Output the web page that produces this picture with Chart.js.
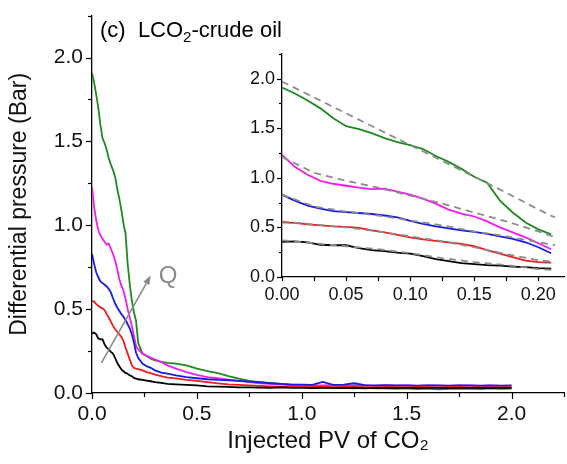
<!DOCTYPE html>
<html>
<head>
<meta charset="utf-8">
<script src="https://cdn.jsdelivr.net/npm/chart.js@4/dist/chart.umd.min.js"></script>
<style>
  html, body { margin: 0; padding: 0; background: #fff; }
  #wrap { position: relative; width: 567px; height: 464px; }
  #main { position: absolute; left: 0; top: 0; }
  #inset { position: absolute; left: 235px; top: 40px; }
</style>
</head>
<body>
<div id="wrap">
  <canvas id="main" width="567" height="464"></canvas>
  <canvas id="inset" width="332" height="270"></canvas>
</div>
<script>
// Injected pore volumes of CO2 (shared x grid for every run)
const pv = [
  0, 0.01, 0.02, 0.03, 0.04, 0.05, 0.06, 0.07, 0.08, 0.09,
  0.10, 0.11, 0.12, 0.13, 0.14, 0.15, 0.16, 0.17, 0.18, 0.19,
  0.20, 0.21, 0.22, 0.24, 0.26, 0.28, 0.30, 0.33, 0.36, 0.40,
  0.45, 0.50, 0.55, 0.60, 0.65, 0.70, 0.75, 0.80, 0.85, 0.90,
  0.95, 1.00, 1.05, 1.10, 1.15, 1.20, 1.25, 1.30, 1.35, 1.40,
  1.45, 1.50, 1.55, 1.60, 1.65, 1.70, 1.75, 1.80, 1.85, 1.90,
  1.95, 2.00
];

// Differential pressure (bar), one run per injection rate
const dpBlack = [
  0.355, 0.360, 0.350, 0.325, 0.320, 0.320, 0.290, 0.270, 0.260, 0.245,
  0.235, 0.210, 0.180, 0.160, 0.140, 0.130, 0.120, 0.115, 0.105, 0.100,
  0.090, 0.085, 0.082, 0.078, 0.074, 0.070, 0.065, 0.060, 0.055, 0.052,
  0.048, 0.045, 0.040, 0.038, 0.036, 0.034, 0.033, 0.032, 0.031, 0.033,
  0.030, 0.031, 0.029, 0.030, 0.031, 0.029, 0.030, 0.028, 0.030, 0.029,
  0.031, 0.030, 0.029, 0.031, 0.030, 0.029, 0.030, 0.031, 0.030, 0.029,
  0.030, 0.031
];
const dpRed = [
  0.550, 0.545, 0.530, 0.520, 0.510, 0.505, 0.495, 0.470, 0.450, 0.425,
  0.400, 0.380, 0.365, 0.350, 0.335, 0.310, 0.270, 0.235, 0.200, 0.165,
  0.150, 0.145, 0.142, 0.135, 0.125, 0.118, 0.110, 0.100, 0.092, 0.087,
  0.078, 0.072, 0.065, 0.058, 0.052, 0.048, 0.045, 0.042, 0.040, 0.038,
  0.039, 0.037, 0.036, 0.038, 0.035, 0.036, 0.037, 0.035, 0.034, 0.036,
  0.035, 0.034, 0.036, 0.035, 0.033, 0.035, 0.036, 0.034, 0.035, 0.033,
  0.035, 0.034
];
const dpBlue = [
  0.830, 0.770, 0.720, 0.690, 0.665, 0.655, 0.645, 0.635, 0.620, 0.600,
  0.565, 0.535, 0.510, 0.490, 0.470, 0.455, 0.435, 0.410, 0.385, 0.350,
  0.300, 0.240, 0.210, 0.175, 0.160, 0.150, 0.135, 0.122, 0.115, 0.105,
  0.095, 0.088, 0.082, 0.078, 0.076, 0.072, 0.068, 0.064, 0.058, 0.055,
  0.050, 0.050, 0.048, 0.066, 0.048, 0.050, 0.058, 0.047, 0.046, 0.047,
  0.045, 0.046, 0.044, 0.046, 0.045, 0.044, 0.046, 0.045, 0.044, 0.045,
  0.044, 0.045
];
const dpMagenta = [
  1.230, 1.110, 1.030, 0.970, 0.940, 0.920, 0.900, 0.885, 0.890, 0.860,
  0.830, 0.790, 0.740, 0.680, 0.640, 0.610, 0.560, 0.500, 0.450, 0.400,
  0.340, 0.280, 0.260, 0.235, 0.222, 0.210, 0.200, 0.185, 0.165, 0.145,
  0.125, 0.108, 0.095, 0.088, 0.080, 0.072, 0.065, 0.058, 0.055, 0.052,
  0.050, 0.048, 0.046, 0.045, 0.047, 0.044, 0.046, 0.045, 0.043, 0.045,
  0.044, 0.046, 0.043, 0.045, 0.044, 0.043, 0.045, 0.044, 0.042, 0.044,
  0.043, 0.042
];
const dpGreen = [
  1.910, 1.850, 1.780, 1.700, 1.600, 1.520, 1.490, 1.450, 1.400, 1.360,
  1.330, 1.290, 1.220, 1.160, 1.090, 1.010, 0.950, 0.770, 0.650, 0.550,
  0.480, 0.430, 0.300, 0.235, 0.220, 0.205, 0.195, 0.185, 0.180, 0.175,
  0.165, 0.145, 0.130, 0.118, 0.100, 0.085, 0.072, 0.065, 0.060, 0.055,
  0.048, 0.040, 0.035, 0.032, 0.030, 0.030, 0.028, 0.030, 0.027, 0.028,
  0.025, 0.027, 0.024, 0.026, 0.022, 0.025, 0.024, 0.026, 0.023, 0.027,
  0.025, 0.026
];

// Fitted trends over the early injection period (dashed)
const fitPV = [0, 0.025, 0.05, 0.075, 0.10, 0.125, 0.15, 0.175, 0.20, 0.213];
const fitBlack   = [0.37, 0.34, 0.31, 0.28, 0.24, 0.19, 0.15, 0.12, 0.08, 0.07];
const fitRed     = [0.56, 0.53, 0.50, 0.46, 0.41, 0.36, 0.30, 0.23, 0.17, 0.15];
const fitBlue    = [0.83, 0.71, 0.66, 0.62, 0.57, 0.52, 0.46, 0.41, 0.35, 0.32];
const fitMagenta = [1.21, 1.05, 0.97, 0.90, 0.82, 0.74, 0.65, 0.56, 0.46, 0.40];
const fitGreen   = [1.97, 1.81, 1.65, 1.49, 1.33, 1.17, 1.01, 0.85, 0.68, 0.60];

// Tick positions
const mainTicks  = [0, 0.25, 0.5, 0.75, 1.0, 1.25, 1.5, 1.75, 2.0, 2.25];
const insetXTicks = [0, 0.025, 0.05, 0.075, 0.10, 0.125, 0.15, 0.175, 0.20];
const insetYTicks = [0, 0.25, 0.5, 0.75, 1.0, 1.25, 1.5, 1.75, 2.0, 2.25];

// Flow-rate arrow (data coordinates) and its label
const arrowFrom = [0.045, 0.18];
const arrowTo   = [0.28, 0.70];
const arrowLabelAt = [0.318, 0.655];
const arrowLabel = 'Q';

const insetMaxPV = 0.211;

const runs = [
  { values: dpBlack,   fit: fitBlack,   color: '#000000' },
  { values: dpRed,     fit: fitRed,     color: '#ee1c1c' },
  { values: dpBlue,    fit: fitBlue,    color: '#1a1ae6' },
  { values: dpMagenta, fit: fitMagenta, color: '#f21bf2' },
  { values: dpGreen,   fit: fitGreen,   color: '#1e8a1e' }
];

const FONT = '"Liberation Sans", Arial, sans-serif';
Chart.defaults.font.family = FONT;
Chart.defaults.color = '#000';

const toPoints = (xs, ys, limit) => xs
  .map((x, i) => ({ x: x, y: ys[i] }))
  .filter(p => limit === undefined || p.x <= limit + 1e-9);

const onStep = (v, step) => Math.abs(v / step - Math.round(v / step)) < 1e-6;

// Major/minor tick marks drawn outward from the axes
const tickMarks = {
  id: 'tickMarks',
  afterDraw(chart, args, opts) {
    const ctx = chart.ctx;
    ctx.save();
    ctx.strokeStyle = '#000';
    ctx.lineWidth = opts.width;
    ['x', 'y'].forEach(id => {
      const sc = chart.scales[id];
      const o = opts[id];
      sc.ticks.forEach(t => {
        const len = onStep(t.value, o.major) ? o.long : o.short;
        const p = Math.round(sc.getPixelForValue(t.value)) + 0.5;
        ctx.beginPath();
        if (id === 'x') { ctx.moveTo(p, sc.top); ctx.lineTo(p, sc.top + len); }
        else { ctx.moveTo(sc.right, p); ctx.lineTo(sc.right - len, p); }
        ctx.stroke();
      });
    });
    ctx.restore();
  }
};

// Panel caption and the flow-rate arrow
const mainDecor = {
  id: 'mainDecor',
  afterDraw(chart) {
    const ctx = chart.ctx;
    const a = chart.chartArea;
    const sx = chart.scales.x, sy = chart.scales.y;
    ctx.save();
    // caption with subscript
    ctx.fillStyle = '#000';
    ctx.textBaseline = 'alphabetic';
    ctx.textAlign = 'left';
    let x = a.left + 8;
    const base = a.top + 21;
    ctx.font = '22px ' + FONT;
    const part1 = '(c)  LCO';
    ctx.fillText(part1, x, base);
    x += ctx.measureText(part1).width;
    ctx.font = '15px ' + FONT;
    ctx.fillText('2', x, base + 5);
    x += ctx.measureText('2').width;
    ctx.font = '22px ' + FONT;
    ctx.fillText('-crude oil', x, base);

    // arrow
    const x0 = sx.getPixelForValue(arrowFrom[0]), y0 = sy.getPixelForValue(arrowFrom[1]);
    const x1 = sx.getPixelForValue(arrowTo[0]), y1 = sy.getPixelForValue(arrowTo[1]);
    const ang = Math.atan2(y1 - y0, x1 - x0);
    const head = 9, hw = 3.5;
    const bx = x1 - head * Math.cos(ang), by = y1 - head * Math.sin(ang);
    ctx.strokeStyle = '#8a8a8a';
    ctx.fillStyle = '#8a8a8a';
    ctx.lineWidth = 1.6;
    ctx.beginPath();
    ctx.moveTo(x0, y0);
    ctx.lineTo(bx, by);
    ctx.stroke();
    ctx.beginPath();
    ctx.moveTo(x1, y1);
    ctx.lineTo(bx + hw * Math.sin(ang), by - hw * Math.cos(ang));
    ctx.lineTo(bx - hw * Math.sin(ang), by + hw * Math.cos(ang));
    ctx.closePath();
    ctx.fill();

    ctx.font = '24px ' + FONT;
    ctx.fillText(arrowLabel, sx.getPixelForValue(arrowLabelAt[0]), sy.getPixelForValue(arrowLabelAt[1]));
    ctx.restore();
  }
};

const lineDs = (run, limit) => ({
  data: toPoints(pv, run.values, limit),
  borderColor: run.color,
  borderWidth: 1.8,
  pointRadius: 0,
  tension: 0,
  fill: false,
  order: 1
});

const fitDs = run => ({
  data: toPoints(fitPV, run.fit),
  borderColor: '#8c8c8c',
  borderWidth: 1.8,
  borderDash: [7, 5],
  pointRadius: 0,
  tension: 0,
  fill: false,
  order: 0
});

const axisCommon = (min, max, tickValues, major, digits, fontSize, tickLen) => ({
  type: 'linear',
  min: min,
  max: max,
  afterBuildTicks: s => { s.ticks = tickValues.map(v => ({ value: v })); },
  border: { display: true, color: '#000', width: 1.3 },
  grid: { display: true, drawOnChartArea: false, drawTicks: true, tickLength: tickLen, color: 'rgba(0,0,0,0)' },
  ticks: {
    autoSkip: false,
    maxRotation: 0,
    padding: 3,
    color: '#111',
    font: { size: fontSize },
    callback: v => onStep(v, major) ? Number(v).toFixed(digits) : ''
  }
});

// Main panel: full injection period
const mainX = axisCommon(0, 2.25, mainTicks, 0.5, 1, 21, 6);
mainX.title = { display: true, text: 'Injected PV of CO₂', font: { size: 24 }, color: '#111', padding: { top: 0, bottom: 8 } };
mainX.afterFit = s => { s.height = 71; };
const mainY = axisCommon(0, 2.25, mainTicks, 0.5, 1, 21, 6);
mainY.title = { display: true, text: 'Differential pressure (Bar)', font: { size: 23 }, color: '#111', padding: { top: 6, bottom: 0 } };
mainY.afterFit = s => { s.width = 92; };

new Chart(document.getElementById('main'), {
  type: 'line',
  data: { datasets: runs.map(r => lineDs(r)) },
  options: {
    responsive: false,
    animation: false,
    layout: { padding: { top: 10, right: 0, left: 0, bottom: 0 } },
    scales: { x: mainX, y: mainY },
    plugins: {
      legend: { display: false },
      tooltip: { enabled: false },
      tickMarks: { width: 1.2, x: { major: 0.5, long: 6, short: 4 }, y: { major: 0.5, long: 6, short: 4 } }
    }
  },
  plugins: [tickMarks, mainDecor]
});

// Inset: early injection period with fitted trends
const insetX = axisCommon(0, 0.22, insetXTicks, 0.05, 2, 18, 4);
insetX.afterFit = s => { s.height = 33; };
const insetY = axisCommon(0, 2.25, insetYTicks, 0.5, 1, 18, 4);
insetY.afterFit = s => { s.width = 47; };

new Chart(document.getElementById('inset'), {
  type: 'line',
  data: { datasets: runs.map(r => lineDs(r, insetMaxPV)).concat(runs.map(fitDs)) },
  options: {
    responsive: false,
    animation: false,
    layout: { padding: { top: 7, right: 3, left: 0, bottom: 0 } },
    scales: { x: insetX, y: insetY },
    plugins: {
      legend: { display: false },
      tooltip: { enabled: false },
      tickMarks: { width: 1.2, x: { major: 0.05, long: 4, short: 4 }, y: { major: 0.5, long: 5, short: 3 } }
    }
  },
  plugins: [tickMarks]
});
</script>
</body>
</html>
